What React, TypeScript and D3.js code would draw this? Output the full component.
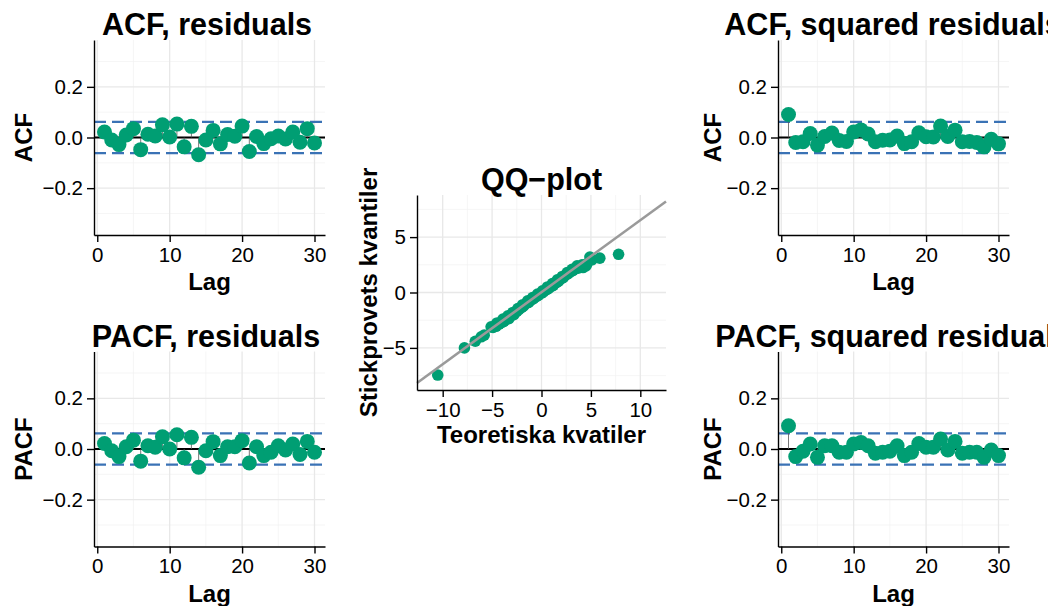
import React, { useEffect, useRef } from 'react';
import * as d3 from 'd3';

// lags 1..30
const lags = [1, 2, 3, 4, 5, 6, 7, 8, 9, 10, 11, 12, 13, 14, 15, 16, 17, 18, 19, 20, 21, 22, 23, 24, 25, 26, 27, 28, 29, 30];

const acfResiduals = [0.022, -0.01, -0.028, 0.01, 0.035, -0.048, 0.013, 0.006, 0.05, 0.002, 0.053, -0.037, 0.044, -0.068, -0.01, 0.028, -0.025, 0.012, 0.005, 0.045, -0.055, 0.004, -0.024, -0.005, 0.006, -0.006, 0.022, -0.019, 0.035, -0.022];
const pacfResiduals = [0.022, -0.007, -0.03, 0.009, 0.035, -0.048, 0.013, 0.007, 0.048, 0.0, 0.056, -0.035, 0.046, -0.072, -0.007, 0.029, -0.026, 0.009, 0.009, 0.033, -0.055, 0.009, -0.026, -0.013, 0.013, -0.004, 0.02, -0.022, 0.03, -0.013];
const acfSquared = [0.091, -0.02, -0.017, 0.016, -0.03, 0.004, 0.018, -0.012, -0.016, 0.022, 0.03, 0.014, -0.017, -0.011, -0.01, 0.006, -0.024, -0.017, 0.019, 0.003, 0.002, 0.045, 0.004, 0.029, -0.017, -0.016, -0.02, -0.037, -0.007, -0.025];
const pacfSquared = [0.092, -0.03, -0.009, 0.02, -0.033, 0.013, 0.013, -0.013, -0.013, 0.02, 0.026, 0.013, -0.017, -0.013, -0.009, 0.013, -0.026, -0.013, 0.022, 0.007, 0.007, 0.039, -0.004, 0.03, -0.017, -0.013, -0.013, -0.033, -0.004, -0.026];
const confBound = [-0.062, 0.062];

const lagTicks = [0, 10, 20, 30];
const lagMinorTicks = [5, 15, 25];
const acfTicks = [-0.2, 0, 0.2];
const acfMinorTicks = [-0.3, -0.1, 0.1, 0.3];

// QQ-plot: theoretical vs sample quantiles
const qqTheoretical = [-10.5, -7.8, -6.7, -6.1, -5.8, -5.1, -4.9, -4.6, -4.5, -4.3, -4.0, -3.9, -3.8, -3.5, -3.4, -3.3, -3.0, -2.9, -2.8, -2.5, -2.4, -2.3, -2.0, -1.9, -1.8, -1.5, -1.4, -1.3, -1.0, -0.9, -0.8, -0.5, -0.4, -0.3, 0.0, 0.1, 0.2, 0.5, 0.6, 0.7, 1.0, 1.1, 1.2, 1.5, 1.6, 1.7, 2.0, 2.1, 2.2, 2.5, 2.6, 2.7, 3.0, 3.1, 3.2, 3.5, 3.6, 3.7, 4.0, 4.1, 4.2, 4.5, 4.6, 4.9, 5.1, 5.9, 7.8];
const qqSample = [-7.45, -5.0, -4.4, -4.0, -3.85, -3.1, -3.15, -3.05, -2.75, -2.85, -2.7, -2.4, -2.6, -2.4, -2.1, -2.35, -2.05, -1.8, -2.0, -1.7, -1.45, -1.55, -1.35, -1.1, -1.2, -0.95, -0.75, -0.9, -0.65, -0.45, -0.55, -0.35, -0.15, -0.25, -0.05, 0.15, 0.05, 0.25, 0.5, 0.35, 0.55, 0.8, 0.65, 0.9, 1.15, 1.0, 1.25, 1.45, 1.35, 1.6, 1.8, 1.7, 1.9, 2.1, 2.0, 2.2, 2.4, 2.2, 2.3, 2.5, 2.25, 2.4, 2.6, 3.2, 2.95, 3.1, 3.45];
const qqLineCoef = [0.03, 0.65]; // intercept, slope
const qqXTicks = [-10, -5, 0, 5, 10];
const qqXMinor = [-7.5, -2.5, 2.5, 7.5];
const qqYTicks = [-5, 0, 5];
const qqYMinor = [-7.5, -2.5, 2.5, 7.5];

const FONT = "'Liberation Sans', Arial, Helvetica, sans-serif";
const GREEN = '#009E73';
const BLUE = '#3A72B5';

type Sel = d3.Selection<SVGSVGElement, unknown, null, undefined>;

const styleAxis = (g: d3.Selection<SVGGElement, unknown, null, undefined>) => {
    g.attr('font-family', FONT).attr('font-size', 20.5);
    g.select('.domain').attr('stroke', '#000').attr('stroke-width', 1.4);
    g.selectAll('.tick line').attr('stroke', '#000').attr('stroke-width', 1.4);
    g.selectAll('.tick text').attr('fill', '#000');
};

const drawGrid = (svg: Sel, x: d3.ScaleLinear<number, number>, y: d3.ScaleLinear<number, number>,
    xMajor: number[], xMinor: number[], yMajor: number[], yMinor: number[]) => {
    const [x0, x1] = x.range();
    const [y0, y1] = y.range();
    const g = svg.append('g');
    xMinor.forEach(v => g.append('line').attr('x1', x(v)).attr('x2', x(v)).attr('y1', y0).attr('y2', y1).attr('stroke', '#f2f2f2').attr('stroke-width', 0.7));
    yMinor.forEach(v => g.append('line').attr('x1', x0).attr('x2', x1).attr('y1', y(v)).attr('y2', y(v)).attr('stroke', '#f2f2f2').attr('stroke-width', 0.7));
    xMajor.forEach(v => g.append('line').attr('x1', x(v)).attr('x2', x(v)).attr('y1', y0).attr('y2', y1).attr('stroke', '#e8e8e8').attr('stroke-width', 1.3));
    yMajor.forEach(v => g.append('line').attr('x1', x0).attr('x2', x1).attr('y1', y(v)).attr('y2', y(v)).attr('stroke', '#e8e8e8').attr('stroke-width', 1.3));
};

interface PanelOpts {
    left: number;
    top: number;
    values: number[];
    title: string;
    titleX: number;
    yLabel: string;
    yLabelX: number;
}

const drawAcfPanel = (svg: Sel, o: PanelOpts) => {
    const width = 231;
    const height = 195;
    const x = d3.scaleLinear().domain([-0.45, 31.45]).range([o.left, o.left + width]);
    const y = d3.scaleLinear().domain([-0.385, 0.385]).range([o.top + height, o.top]);

    drawGrid(svg, x, y, lagTicks, lagMinorTicks, acfTicks, acfMinorTicks);

    // zero line
    svg.append('line')
        .attr('x1', o.left).attr('x2', o.left + width)
        .attr('y1', y(0)).attr('y2', y(0))
        .attr('stroke', '#000').attr('stroke-width', 2);

    // confidence bounds
    confBound.forEach(b => {
        svg.append('line')
            .attr('x1', o.left).attr('x2', o.left + width)
            .attr('y1', y(b)).attr('y2', y(b))
            .attr('stroke', BLUE).attr('stroke-width', 2.2)
            .attr('stroke-dasharray', '12 6');
    });

    // stems
    svg.append('g').selectAll('line').data(lags).join('line')
        .attr('x1', d => x(d)).attr('x2', d => x(d))
        .attr('y1', y(0)).attr('y2', (d, i) => y(o.values[i]))
        .attr('stroke', '#555').attr('stroke-width', 0.8);

    svg.append('g').selectAll('circle').data(lags).join('circle')
        .attr('cx', d => x(d)).attr('cy', (d, i) => y(o.values[i]))
        .attr('r', 7.5).attr('fill', GREEN);

    const gx = svg.append('g')
        .attr('transform', `translate(0,${o.top + height})`)
        .call(d3.axisBottom(x).tickValues(lagTicks).tickSize(7).tickSizeOuter(0).tickPadding(5).tickFormat(d3.format('d')));
    styleAxis(gx);

    const gy = svg.append('g')
        .attr('transform', `translate(${o.left},0)`)
        .call(d3.axisLeft(y).tickValues(acfTicks).tickSize(7).tickSizeOuter(0).tickPadding(4).tickFormat(d3.format('.1f')));
    styleAxis(gy);

    svg.append('text')
        .attr('x', o.left + width / 2).attr('y', o.top + height + 55)
        .attr('text-anchor', 'middle').attr('font-family', FONT)
        .attr('font-size', 24).attr('font-weight', 'bold')
        .text('Lag');

    svg.append('text')
        .attr('transform', `translate(${o.yLabelX},${o.top + height / 2}) rotate(-90)`)
        .attr('text-anchor', 'middle').attr('font-family', FONT)
        .attr('font-size', 24).attr('font-weight', 'bold')
        .text(o.yLabel);

    svg.append('text')
        .attr('x', o.titleX).attr('y', o.top - 5)
        .attr('text-anchor', 'middle').attr('font-family', FONT)
        .attr('font-size', 30.5).attr('font-weight', 'bold')
        .text(o.title);
};

const drawQQ = (svg: Sel) => {
    const left = 417, right = 666, top = 195, bottom = 390;
    const x = d3.scaleLinear().domain([-12.6, 12.6]).range([left, right]);
    const y = d3.scaleLinear().domain([-8.8, 8.8]).range([bottom, top]);

    drawGrid(svg, x, y, qqXTicks, qqXMinor, qqYTicks, qqYMinor);

    svg.append('g').selectAll('circle').data(qqTheoretical).join('circle')
        .attr('cx', d => x(d)).attr('cy', (d, i) => y(qqSample[i]))
        .attr('r', 5.8).attr('fill', GREEN);

    const [xa, xb] = x.domain();
    svg.append('line')
        .attr('x1', x(xa)).attr('y1', y(qqLineCoef[0] + qqLineCoef[1] * xa))
        .attr('x2', x(xb)).attr('y2', y(qqLineCoef[0] + qqLineCoef[1] * xb))
        .attr('stroke', '#9a9a9a').attr('stroke-width', 2.5);

    const gx = svg.append('g')
        .attr('transform', `translate(0,${bottom})`)
        .call(d3.axisBottom(x).tickValues(qqXTicks).tickSize(7).tickSizeOuter(0).tickPadding(5).tickFormat(d3.format('d')));
    styleAxis(gx);

    const gy = svg.append('g')
        .attr('transform', `translate(${left},0)`)
        .call(d3.axisLeft(y).tickValues(qqYTicks).tickSize(7).tickSizeOuter(0).tickPadding(4).tickFormat(d3.format('d')));
    styleAxis(gy);

    svg.append('text')
        .attr('x', (left + right) / 2).attr('y', bottom + 53)
        .attr('text-anchor', 'middle').attr('font-family', FONT)
        .attr('font-size', 24).attr('font-weight', 'bold')
        .text('Teoretiska kvatiler');

    svg.append('text')
        .attr('transform', `translate(377,${(top + bottom) / 2}) rotate(-90)`)
        .attr('text-anchor', 'middle').attr('font-family', FONT)
        .attr('font-size', 24).attr('font-weight', 'bold')
        .text('Stickprovets kvantiler');

    svg.append('text')
        .attr('x', (left + right) / 2).attr('y', top - 5)
        .attr('text-anchor', 'middle').attr('font-family', FONT)
        .attr('font-size', 30.5).attr('font-weight', 'bold')
        .text('QQ\u2212plot');
};

const App: React.FC = () => {
    const ref = useRef<SVGSVGElement | null>(null);

    useEffect(() => {
        if (!ref.current) return;
        const svg = d3.select(ref.current);
        svg.selectAll('*').remove();

        svg.append('rect').attr('width', 1048).attr('height', 606).attr('fill', '#fff');

        drawAcfPanel(svg, { left: 94, top: 40, values: acfResiduals, title: 'ACF, residuals', titleX: 207, yLabel: 'ACF', yLabelX: 31.5 });
        drawAcfPanel(svg, { left: 94, top: 351.5, values: pacfResiduals, title: 'PACF, residuals', titleX: 206, yLabel: 'PACF', yLabelX: 31.5 });
        // the long titles run past the right edge, as in the original figure
        drawAcfPanel(svg, { left: 778, top: 40, values: acfSquared, title: 'ACF, squared residuals', titleX: 893, yLabel: 'ACF', yLabelX: 721 });
        drawAcfPanel(svg, { left: 778, top: 351.5, values: pacfSquared, title: 'PACF, squared residuals', titleX: 893, yLabel: 'PACF', yLabelX: 721 });
        drawQQ(svg);
    }, []);

    return (
        <svg ref={ref} width={1048} height={606}
            style={{ position: 'absolute', left: 0, top: 0, display: 'block' }} />
    );
};

export default App;
